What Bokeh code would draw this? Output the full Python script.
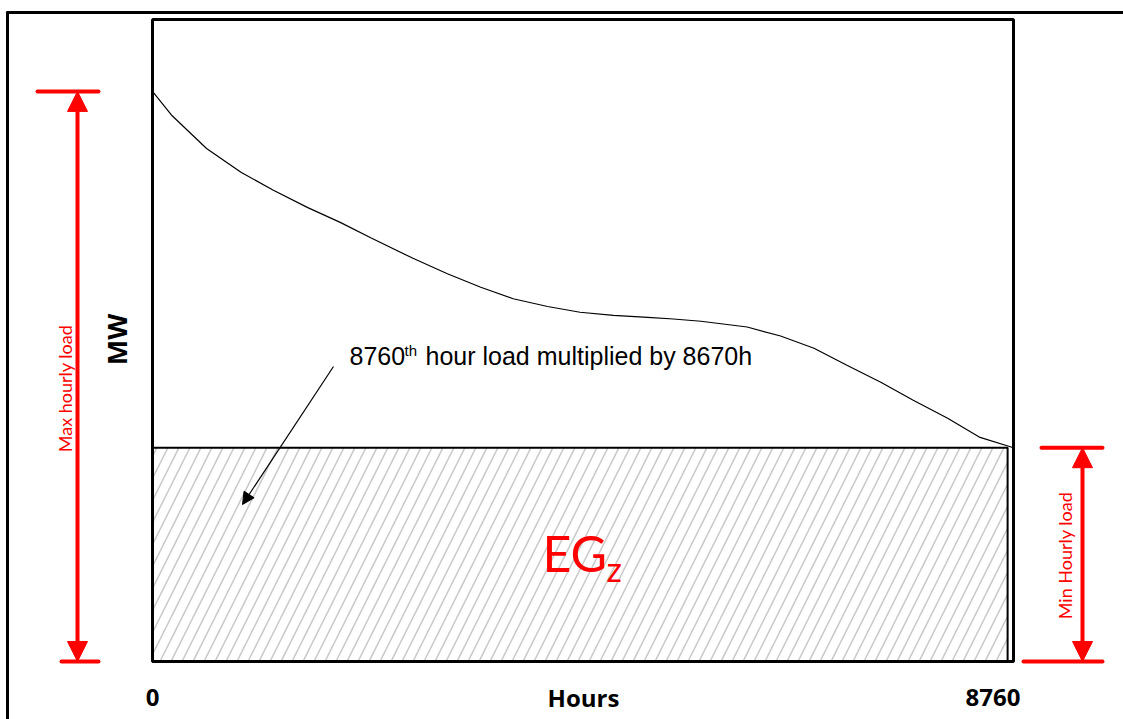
from bokeh.plotting import figure
from bokeh.models import Range1d, Label, Arrow, NormalHead
from bokeh.embed import file_html
from bokeh.resources import INLINE
import math

# ---------------- data ----------------
hours = [0, 200, 550, 900, 1230, 1580, 1910, 2220, 2650, 3000, 3340, 3670, 4020,
         4350, 4690, 5040, 5300, 5580, 6050, 6390, 6730, 7070, 7410, 7740, 8090, 8420, 8760]
load_mw = [88.8, 85.0, 79.9, 76.2, 73.4, 70.7, 68.4, 66.0, 62.8, 60.4, 58.3, 56.5, 55.3,
           54.4, 53.9, 53.6, 53.35, 53.0, 52.1, 50.7, 48.8, 46.1, 43.5, 40.7, 37.9, 34.9, 33.3]
eg_end_hour = 8700
x_tick_values = [0, 4385, 8760]
x_tick_labels = ["0", "Hours", "8760"]
y_label = "MW"
max_label = "Max hourly load"
min_label = "Min Hourly load"
note_parts = ["8760", "th", " hour load multiplied by 8670h"]

max_load = load_mw[0]
min_load = load_mw[-1]

# ---------------- layout (page pixels) ----------------
W, H = 1123, 719
FL, FR, FT, FB = 152, 1013, 19, 661
Y_TOP = 100.0


def hx(px):
    return (px - FL) * 8760.0 / (FR - FL)


def my(py):
    return (FB - py) * Y_TOP / (FB - FT)


p = figure(width=W, height=H, x_range=Range1d(hx(0), hx(W)), y_range=Range1d(my(H), my(0)),
           x_axis_type=None, y_axis_type=None, output_backend="svg",
           toolbar_location=None, tools="", min_border=0)
p.outline_line_color = None
p.background_fill_color = "white"
p.border_fill_color = "white"

# hatched energy block
p.quad(left=[0], right=[eg_end_hour], bottom=[0], top=[min_load],
       fill_color="white", line_color="black", line_width=2,
       hatch_pattern="/", hatch_color="#c8c8c8", hatch_weight=1.5, hatch_scale=22)

# plot box
p.quad(left=[0], right=[8760], bottom=[0], top=[Y_TOP],
       fill_color=None, line_color="black", line_width=3)

# load duration curve
p.line(hours, load_mw, line_color="black", line_width=1.2)

RED = "#ff0000"


def seg(x0, y0, x1, y1, color, width):
    p.add_layout(Arrow(end=None, start=None, x_start=x0, y_start=y0, x_end=x1, y_end=y1,
                       line_color=color, line_width=width, line_cap="round"))


def dbl_arrow(x, y0, y1):
    p.add_layout(Arrow(start=NormalHead(size=20, fill_color=RED, line_color=RED),
                       end=NormalHead(size=20, fill_color=RED, line_color=RED),
                       x_start=x, y_start=y0, x_end=x, y_end=y1,
                       line_color=RED, line_width=4))


# outer frame lines
seg(hx(7), my(12), hx(1140), my(12), "black", 3)
seg(hx(7), my(12), hx(7), my(740), "black", 3)

# max load dimension
dbl_arrow(hx(77), 0, max_load)
seg(hx(37), max_load, hx(98), max_load, RED, 4)
seg(hx(61), 0, hx(98), 0, RED, 4)
p.add_layout(Label(x=hx(64), y=my(388), text=max_label, angle=math.pi / 2,
                   text_align="center", text_baseline="middle", text_color=RED,
                   text_font="Lato", text_font_size="18px"))

# min load dimension
dbl_arrow(hx(1082), 0, min_load)
seg(hx(1041), min_load, hx(1102), min_load, RED, 4)
seg(hx(1023), 0, hx(1102), 0, RED, 4)
p.add_layout(Label(x=hx(1064), y=my(555), text=min_label, angle=math.pi / 2,
                   text_align="center", text_baseline="middle", text_color=RED,
                   text_font="Lato", text_font_size="18px"))

# y label
p.add_layout(Label(x=hx(116), y=my(339), text=y_label, angle=math.pi / 2,
                   text_align="center", text_baseline="middle", text_color="black",
                   text_font="Open Sans", text_font_style="bold", text_font_size="27px"))

# x labels
aligns = ["center", "center", "right"]
offs = [0, 0, 7]
for v, t, a, o in zip(x_tick_values, x_tick_labels, aligns, offs):
    p.add_layout(Label(x=v, y=my(705), x_offset=o, y_offset=8, text=t, text_align=a,
                       text_baseline="alphabetic", text_color="black",
                       text_font="Open Sans", text_font_style="bold", text_font_size="24px"))

# annotation text with superscript
nx, ny = hx(349), my(365)
p.add_layout(Label(x=nx, y=ny, y_offset=10, text=note_parts[0], text_baseline="alphabetic",
                   text_font="Liberation Sans", text_font_size="25px", text_color="black"))
p.add_layout(Label(x=nx, y=ny, x_offset=55, y_offset=15, text=note_parts[1],
                   text_baseline="alphabetic",
                   text_font="Liberation Sans", text_font_size="15px", text_color="black"))
p.add_layout(Label(x=nx, y=ny, x_offset=76, y_offset=10, text=note_parts[2],
                   text_baseline="alphabetic",
                   text_font="Liberation Sans", text_font_size="25px", text_color="black"))

# pointer arrow
p.add_layout(Arrow(end=NormalHead(size=12, fill_color="black", line_color="black"),
                   x_start=hx(333), y_start=my(366), x_end=hx(242), y_end=my(504),
                   line_color="black", line_width=1.2))

# EG_z
p.add_layout(Label(x=hx(542), y=my(573), y_offset=21, text="EG", text_baseline="alphabetic",
                   text_color=RED, text_font="Lato", text_font_size="50px"))
p.add_layout(Label(x=hx(606), y=my(581), y_offset=13, text="z", text_baseline="alphabetic",
                   text_color=RED, text_font="Lato", text_font_size="34px"))

open("out.html", "w").write(file_html(p, INLINE))
